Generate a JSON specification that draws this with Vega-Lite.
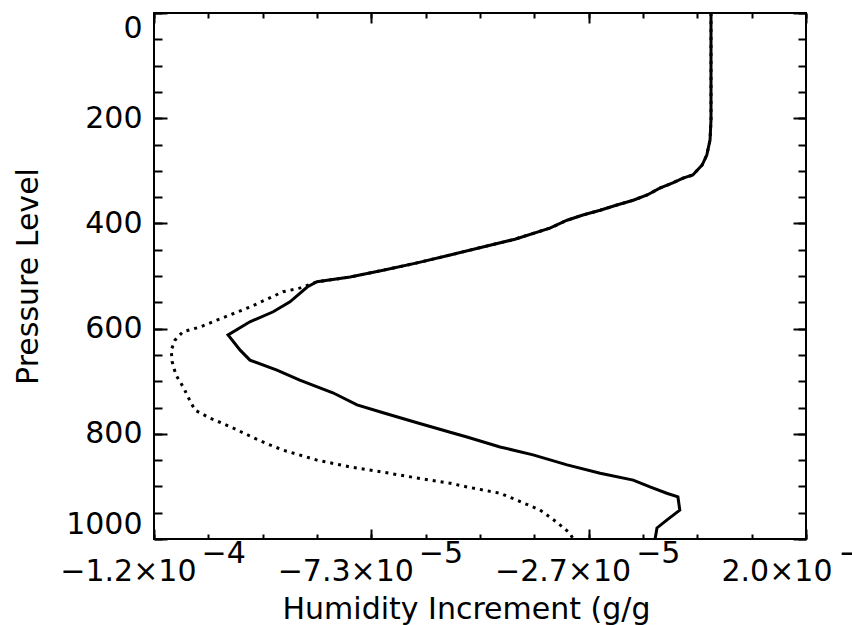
{
  "$schema": "https://vega.github.io/schema/vega-lite/v6.json",
  "width": 652,
  "height": 526,
  "autosize": {"type": "none"},
  "padding": {"left": 154, "top": 13, "right": 46, "bottom": 86},
  "background": "white",
  "datasets": {
    "solid": [
      {"p": 0, "q": -4e-7}, {"p": 100, "q": -4e-7}, {"p": 203, "q": -4e-7}, {"p": 241, "q": -6e-7},
      {"p": 270, "q": -1.3e-6}, {"p": 289, "q": -2.3e-6}, {"p": 308, "q": -4.3e-6}, {"p": 314, "q": -6.4e-6},
      {"p": 323, "q": -8.6e-6}, {"p": 333, "q": -1.14e-5}, {"p": 346, "q": -1.41e-5}, {"p": 356, "q": -1.71e-5},
      {"p": 365, "q": -2.06e-5}, {"p": 375, "q": -2.42e-5}, {"p": 384, "q": -2.79e-5}, {"p": 394, "q": -3.13e-5},
      {"p": 409, "q": -3.5e-5}, {"p": 430, "q": -4.25e-5}, {"p": 460, "q": -5.64e-5}, {"p": 475, "q": -6.35e-5},
      {"p": 489, "q": -7.08e-5}, {"p": 502, "q": -7.79e-5}, {"p": 511, "q": -8.5e-5}, {"p": 521, "q": -8.71e-5},
      {"p": 549, "q": -9.08e-5}, {"p": 568, "q": -9.44e-5}, {"p": 587, "q": -9.94e-5}, {"p": 612, "q": -1.041e-4},
      {"p": 641, "q": -1.015e-4}, {"p": 660, "q": -9.94e-5}, {"p": 679, "q": -9.36e-5}, {"p": 698, "q": -8.87e-5},
      {"p": 722, "q": -8.16e-5}, {"p": 745, "q": -7.64e-5}, {"p": 760, "q": -7.08e-5}, {"p": 779, "q": -6.35e-5},
      {"p": 797, "q": -5.64e-5}, {"p": 806, "q": -5.28e-5}, {"p": 825, "q": -4.57e-5}, {"p": 840, "q": -3.86e-5},
      {"p": 859, "q": -3.13e-5}, {"p": 875, "q": -2.42e-5}, {"p": 888, "q": -1.71e-5}, {"p": 901, "q": -1.35e-5},
      {"p": 913, "q": -9.9e-6}, {"p": 920, "q": -7.5e-6}, {"p": 945, "q": -7.1e-6}, {"p": 964, "q": -9.9e-6},
      {"p": 979, "q": -1.2e-5}, {"p": 1000, "q": -1.24e-5}
    ],
    "dotted": [
      {"p": 0, "q": -4e-7}, {"p": 100, "q": -4e-7}, {"p": 203, "q": -4e-7}, {"p": 241, "q": -6e-7},
      {"p": 270, "q": -1.3e-6}, {"p": 289, "q": -2.3e-6}, {"p": 308, "q": -4.3e-6}, {"p": 314, "q": -6.4e-6},
      {"p": 323, "q": -8.6e-6}, {"p": 333, "q": -1.14e-5}, {"p": 346, "q": -1.41e-5}, {"p": 356, "q": -1.71e-5},
      {"p": 365, "q": -2.06e-5}, {"p": 375, "q": -2.42e-5}, {"p": 384, "q": -2.79e-5}, {"p": 394, "q": -3.13e-5},
      {"p": 409, "q": -3.5e-5}, {"p": 430, "q": -4.25e-5}, {"p": 460, "q": -5.64e-5}, {"p": 475, "q": -6.35e-5},
      {"p": 489, "q": -7.08e-5}, {"p": 502, "q": -7.79e-5}, {"p": 511, "q": -8.5e-5},
      {"p": 523, "q": -8.87e-5}, {"p": 530, "q": -9.23e-5}, {"p": 559, "q": -9.94e-5}, {"p": 584, "q": -1.065e-4},
      {"p": 597, "q": -1.101e-4}, {"p": 606, "q": -1.138e-4}, {"p": 622, "q": -1.155e-4}, {"p": 641, "q": -1.163e-4},
      {"p": 663, "q": -1.161e-4}, {"p": 688, "q": -1.153e-4}, {"p": 713, "q": -1.136e-4}, {"p": 730, "q": -1.127e-4},
      {"p": 755, "q": -1.112e-4}, {"p": 770, "q": -1.08e-4}, {"p": 789, "q": -1.03e-4}, {"p": 806, "q": -9.9e-5},
      {"p": 819, "q": -9.57e-5}, {"p": 831, "q": -9.23e-5}, {"p": 850, "q": -8.5e-5}, {"p": 863, "q": -7.79e-5},
      {"p": 873, "q": -7.08e-5}, {"p": 884, "q": -6.35e-5}, {"p": 894, "q": -5.64e-5}, {"p": 901, "q": -5.28e-5},
      {"p": 913, "q": -4.57e-5}, {"p": 926, "q": -4.21e-5}, {"p": 945, "q": -3.71e-5}, {"p": 968, "q": -3.35e-5},
      {"p": 989, "q": -3.07e-5}, {"p": 1000, "q": -3.0e-5}
    ]
  },
  "layer": [
    {
      "data": {"name": "dotted"},
      "mark": {"type": "line", "color": "black", "strokeWidth": 3, "strokeDash": [3, 5], "strokeCap": "butt"},
      "encoding": {
        "x": {"field": "q", "type": "quantitative", "scale": {"domain": [-1.2e-4, 2e-5], "nice": false, "zero": false},
              "axis": {"orient": "top", "values": [-1.2e-4, -7.3333333e-5, -2.6666667e-5, 2e-5], "tickSize": -10, "labels": false, "title": null}},
        "y": {"field": "p", "type": "quantitative", "scale": {"domain": [0, 1000], "reverse": true, "nice": false, "zero": false},
              "axis": {"orient": "right", "values": [0, 200, 400, 600, 800, 1000], "tickSize": -13, "labels": false, "title": null}},
        "order": {"field": "p", "type": "quantitative"}
      }
    },
    {
      "data": {"name": "solid"},
      "mark": {"type": "line", "color": "black", "strokeWidth": 3},
      "encoding": {
        "x": {"field": "q", "type": "quantitative", "scale": {"domain": [-1.2e-4, 2e-5], "nice": false, "zero": false},
              "axis": {"orient": "bottom", "values": [-1.2e-4, -7.3333333e-5, -2.6666667e-5, 2e-5], "tickSize": -10,
                       "labelExpr": "datum.value < -1e-4 ? '−1.2×10' : datum.value < -5e-5 ? '−7.3×10' : datum.value < 0 ? '−2.7×10' : '2.0×10'",
                       "labelAlign": "right", "labelBaseline": "alphabetic", "labelPadding": 51,
                       "labelOffset": {"condition": {"test": "datum.value > 0", "value": 26}, "value": 42},
                       "title": "Humidity Increment (g/g", "titleX": 312, "titleY": 79, "titleAlign": "center", "titleBaseline": "alphabetic", "titleAngle": 0}},
        "y": {"field": "p", "type": "quantitative", "scale": {"domain": [0, 1000], "reverse": true, "nice": false, "zero": false},
              "axis": {"orient": "left", "values": [0, 200, 400, 600, 800, 1000], "format": "d", "tickSize": -13, "labelPadding": 25,
                       "labelAlign": "right", "labelFlush": true,
                       "title": "Pressure Level", "titleX": -117, "titleY": 263, "titleAngle": -90, "titleAlign": "center", "titleBaseline": "alphabetic"}},
        "order": {"field": "p", "type": "quantitative"}
      }
    },
    {
      "data": {"name": "solid"},
      "mark": {"type": "line", "opacity": 0},
      "encoding": {
        "x": {"field": "q", "type": "quantitative", "scale": {"domain": [-1.2e-4, 2e-5], "nice": false, "zero": false},
              "axis": {"orient": "bottom", "values": [-1.2e-4, -7.3333333e-5, -2.6666667e-5, 2e-5], "ticks": false, "tickSize": 0,
                       "labelExpr": "datum.value < -1e-4 ? '−4' : '−5'",
                       "labelAlign": "left", "labelBaseline": "alphabetic", "labelPadding": 23,
                       "labelOffset": {"condition": {"test": "datum.value > 0", "value": 32}, "value": 47},
                       "title": null}},
        "y": {"field": "p", "type": "quantitative", "scale": {"domain": [0, 1000], "reverse": true, "nice": false, "zero": false},
              "axis": {"orient": "left", "values": [0, 50, 100, 150, 200, 250, 300, 350, 400, 450, 500, 550, 600, 650, 700, 750, 800, 850, 900, 950, 1000],
                       "tickSize": -8, "labels": false, "title": null}},
        "order": {"field": "p", "type": "quantitative"}
      }
    },
    {
      "data": {"name": "solid"},
      "mark": {"type": "line", "opacity": 0},
      "encoding": {
        "x": {"field": "q", "type": "quantitative", "scale": {"domain": [-1.2e-4, 2e-5], "nice": false, "zero": false},
              "axis": {"orient": "bottom", "values": [-1.2e-4, -1.0833333e-4, -9.6666667e-5, -8.5e-5, -7.3333333e-5, -6.1666667e-5, -5e-5, -3.8333333e-5, -2.6666667e-5, -1.5e-5, -3.3333333e-6, 8.3333333e-6, 2e-5],
                       "tickSize": -5, "labels": false, "title": null}},
        "y": {"field": "p", "type": "quantitative", "scale": {"domain": [0, 1000], "reverse": true, "nice": false, "zero": false},
              "axis": {"orient": "right", "values": [0, 50, 100, 150, 200, 250, 300, 350, 400, 450, 500, 550, 600, 650, 700, 750, 800, 850, 900, 950, 1000],
                       "tickSize": -8, "labels": false, "title": null}},
        "order": {"field": "p", "type": "quantitative"}
      }
    },
    {
      "data": {"name": "solid"},
      "mark": {"type": "line", "opacity": 0},
      "encoding": {
        "x": {"field": "q", "type": "quantitative", "scale": {"domain": [-1.2e-4, 2e-5], "nice": false, "zero": false},
              "axis": {"orient": "top", "values": [-1.2e-4, -1.0833333e-4, -9.6666667e-5, -8.5e-5, -7.3333333e-5, -6.1666667e-5, -5e-5, -3.8333333e-5, -2.6666667e-5, -1.5e-5, -3.3333333e-6, 8.3333333e-6, 2e-5],
                       "tickSize": -5, "labels": false, "title": null}},
        "y": {"field": "p", "type": "quantitative", "scale": {"domain": [0, 1000], "reverse": true, "nice": false, "zero": false}, "axis": null},
        "order": {"field": "p", "type": "quantitative"}
      }
    }
  ],
  "resolve": {"axis": {"x": "independent", "y": "independent"}},
  "config": {
    "view": {"stroke": "black", "strokeWidth": 2},
    "font": "DejaVu Sans",
    "axis": {
      "domain": false, "grid": false,
      "tickColor": "black", "tickWidth": 2,
      "labelFont": "DejaVu Sans", "labelFontSize": 30, "labelColor": "black", "labelFontWeight": "normal",
      "labelFlush": false, "labelOverlap": false, "labelBound": false,
      "titleFont": "DejaVu Sans", "titleFontSize": 30, "titleColor": "black", "titleFontWeight": "normal"
    }
  }
}
